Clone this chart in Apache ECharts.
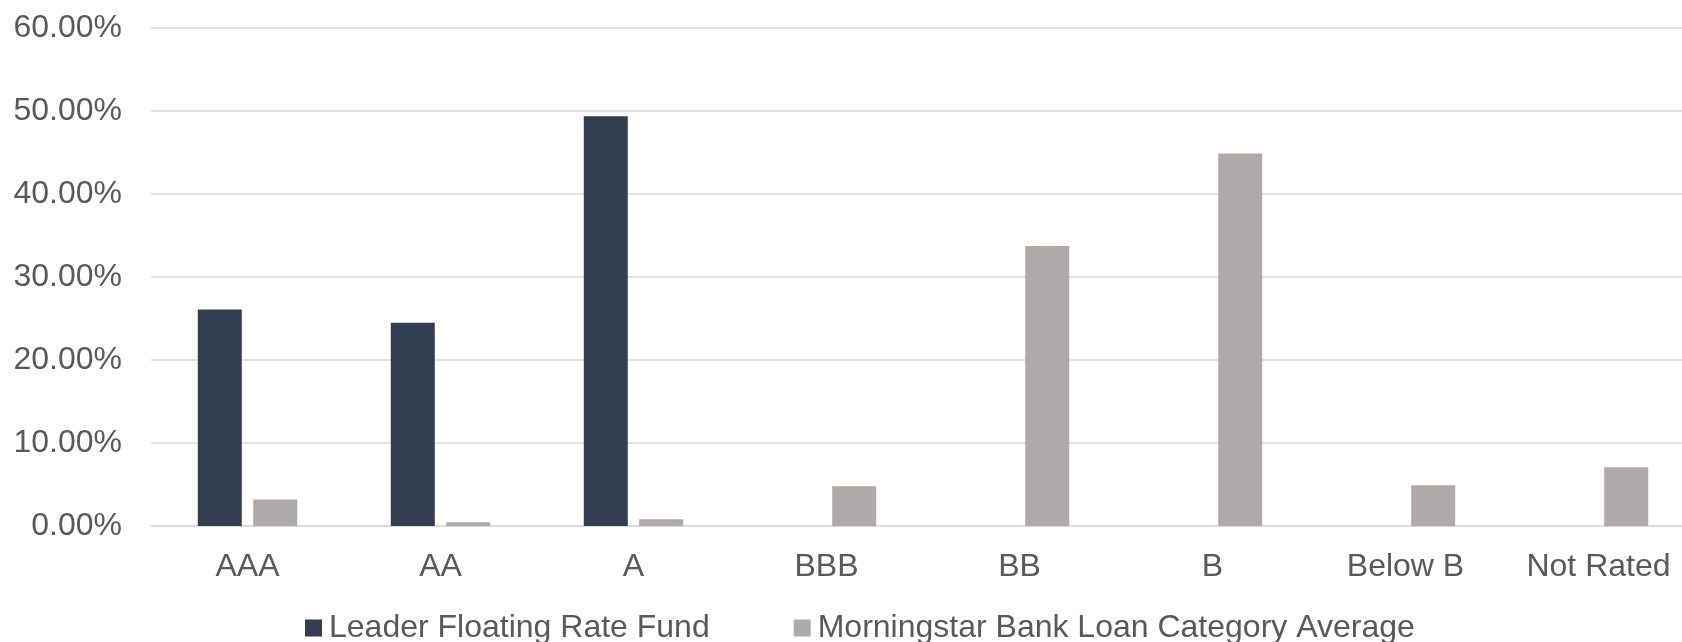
<!DOCTYPE html>
<html>
<head>
<meta charset="utf-8">
<style>
  html, body { margin: 0; padding: 0; background: #ffffff; overflow: hidden; width: 1682px; height: 642px; }
  /* plot area runs slightly past the right edge of the page */
  #chart { width: 1695px; height: 642px; }
</style>
<script src="https://cdn.jsdelivr.net/npm/echarts@6/dist/echarts.min.js"></script>
</head>
<body>
<div id="chart"></div>
<script>
// Credit quality breakdown (% of holdings)
const categories = ['AAA', 'AA', 'A', 'BBB', 'BB', 'B', 'Below B', 'Not Rated'];
const fundName = 'Leader Floating Rate Fund';
const categoryAvgName = 'Morningstar Bank Loan Category Average';
const fundValues = [26.07, 24.48, 49.36, 0, 0, 0, 0, 0];
const categoryAvgValues = [3.18, 0.45, 0.80, 4.78, 33.73, 44.87, 4.90, 7.07];
const yTicks = [0, 10, 20, 30, 40, 50, 60];

const FONT = "'Liberation Sans', Arial, sans-serif";
const TEXT = '#595959';
const GRID = '#d9d9d9';

const chart = echarts.init(document.getElementById('chart'), null, { renderer: 'canvas' });

chart.setOption({
  animation: false,
  backgroundColor: '#ffffff',
  textStyle: { fontFamily: FONT },
  grid: { left: 151, right: 0, top: 28, bottom: 116, containLabel: false },
  legend: {
    data: [fundName, categoryAvgName],
    left: 300,
    top: 607,
    icon: 'rect',
    itemWidth: 17,
    itemHeight: 17,
    itemGap: 84,
    textStyle: { fontFamily: FONT, fontSize: 32, color: TEXT, padding: [0, 0, 0, 2] }
  },
  xAxis: {
    type: 'category',
    data: categories,
    axisLine: { show: true, lineStyle: { color: GRID, width: 1.5 } },
    axisTick: { show: false },
    axisLabel: { fontFamily: FONT, fontSize: 32, color: TEXT, margin: 25 }
  },
  yAxis: {
    type: 'value',
    min: yTicks[0],
    max: yTicks[yTicks.length - 1],
    interval: 10,
    axisLine: { show: false },
    axisTick: { show: false },
    splitLine: { lineStyle: { color: GRID, width: 1.5 } },
    axisLabel: {
      fontFamily: FONT, fontSize: 32, color: TEXT, margin: 29,
      formatter: v => v.toFixed(2) + '%'
    }
  },
  series: [
    {
      name: fundName,
      type: 'bar',
      data: fundValues,
      barWidth: 44,
      barGap: '26%',
      itemStyle: { color: '#333e50' }
    },
    {
      name: categoryAvgName,
      type: 'bar',
      data: categoryAvgValues,
      barWidth: 44,
      barGap: '26%',
      itemStyle: { color: '#aeaaaa' }
    }
  ]
});
</script>
</body>
</html>
